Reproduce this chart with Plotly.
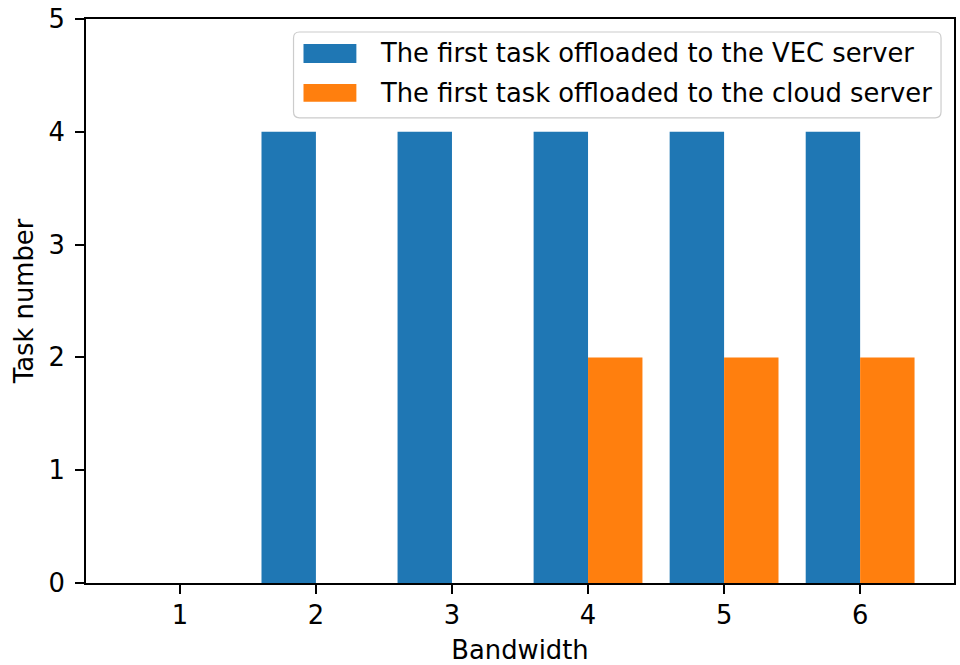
import plotly.graph_objects as go

# ---- data ----
bandwidth = [1, 2, 3, 4, 5, 6]
vec_tasks = [0, 4, 4, 4, 4, 4]
cloud_tasks = [0, 0, 0, 2, 2, 2]
series_names = ["The first task offloaded to the VEC server",
                "The first task offloaded to the cloud server"]
y_ticks = [0, 1, 2, 3, 4, 5]

BLUE = "#1f77b4"
ORANGE = "#ff7f0e"
FONT = "DejaVu Sans"
FS = 25.8

W, H = 960, 665
L, R, T, B = 86, 956, 18, 583
PW, PH = R - L, B - T


def px(x):
    return (x - L) / PW


def py(y):
    return (B - y) / PH


fig = go.Figure()
fig.add_trace(go.Bar(x=bandwidth, y=vec_tasks, name=series_names[0],
                     marker=dict(color=BLUE, line=dict(width=0)),
                     showlegend=False))
fig.add_trace(go.Bar(x=bandwidth, y=cloud_tasks, name=series_names[1],
                     marker=dict(color=ORANGE, line=dict(width=0)),
                     showlegend=False))

axis_common = dict(
    showgrid=False, zeroline=False,
    showline=True, linecolor="black", linewidth=1.6, mirror=True,
    ticks="outside", ticklen=9, tickwidth=1.6, tickcolor="black",
    tickfont=dict(family=FONT, size=FS, color="black"),
)

fig.update_layout(
    width=W, height=H,
    margin=dict(l=L, r=W - R, t=T, b=H - B, pad=0),
    paper_bgcolor="white", plot_bgcolor="white",
    barmode="group", bargap=0.2, bargroupgap=0,
    font=dict(family=FONT, size=FS, color="black"),
    xaxis=dict(range=[0.31, 6.69], tickmode="array", tickvals=bandwidth,
               ticktext=[str(b) for b in bandwidth], ticklabelstandoff=-1,
               title=dict(text="Bandwidth", standoff=12,
                          font=dict(family=FONT, size=FS, color="black")),
               **axis_common),
    yaxis=dict(range=[0, 5], tickmode="array", tickvals=y_ticks,
               ticktext=[str(v) for v in y_ticks], ticklabelstandoff=5,
               title=dict(text="Task number", standoff=8,
                          font=dict(family=FONT, size=FS, color="black")),
               **axis_common),
)

# ---- legend (matplotlib-style box) ----
x0, x1 = px(294), px(943)
y0, y1 = py(117), py(31)
rx, ry = 6 / PW, 6 / PH
path = (f"M {x0+rx},{y0} L {x1-rx},{y0} Q {x1},{y0} {x1},{y0+ry} "
        f"L {x1},{y1-ry} Q {x1},{y1} {x1-rx},{y1} "
        f"L {x0+rx},{y1} Q {x0},{y1} {x0},{y1-ry} "
        f"L {x0},{y0+ry} Q {x0},{y0} {x0+rx},{y0} Z")
fig.add_shape(type="path", path=path, xref="paper", yref="paper",
              fillcolor="rgba(255,255,255,0.8)",
              line=dict(color="#cccccc", width=1.2), layer="above")

rows = [(BLUE, series_names[0], 43, 62, 52),
        (ORANGE, series_names[1], 83, 101, 92)]
for color, label, top, bot, mid in rows:
    fig.add_shape(type="rect", xref="paper", yref="paper",
                  x0=px(304), x1=px(357), y0=py(bot), y1=py(top),
                  fillcolor=color, line=dict(width=0), layer="above")
    fig.add_annotation(x=px(379), y=py(mid), xref="paper", yref="paper",
                       text=label, showarrow=False, xanchor="left",
                       yanchor="middle",
                       font=dict(family=FONT, size=FS, color="black"))

fig.write_html("out.html",
               config={"displayModeBar": False},
               post_script="document.body.style.margin='0';"
                           "document.body.style.overflow='hidden';")
